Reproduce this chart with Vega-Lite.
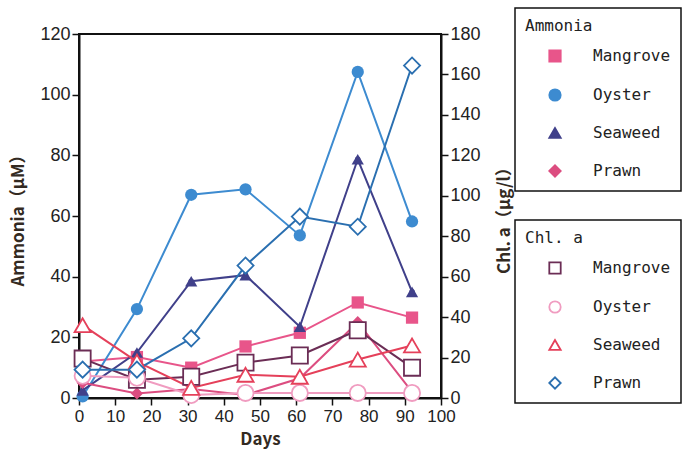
{
  "$schema": "https://vega.github.io/schema/vega-lite/v6.json",
  "width": 362,
  "height": 364,
  "autosize": "none",
  "padding": {"left": 79, "top": 34, "right": 254, "bottom": 57},
  "background": "white",
  "config": {
    "view": {"stroke": "#111", "strokeWidth": 2},
    "axis": {
      "labelFont": "Liberation Sans",
      "labelFontSize": 18,
      "labelColor": "#222",
      "labelOverlap": false,
      "labelFlush": false,
      "titleFont": "Noto Sans CJK JP",
      "titleFontSize": 17,
      "titleFontWeight": "bold",
      "titleColor": "#332a22",
      "domainColor": "#111",
      "domainWidth": 2,
      "tickColor": "#111",
      "tickWidth": 1.5,
      "tickSize": 7,
      "grid": false
    },
    "legend": {
      "orient": "none",
      "strokeColor": "#111",
      "strokeWidth": 1.5,
      "padding": 10,
      "titleFont": "DejaVu Sans Mono",
      "titleFontSize": 16,
      "titleFontWeight": "normal",
      "titleColor": "#222",
      "labelFont": "DejaVu Sans Mono",
      "labelFontSize": 16,
      "labelColor": "#222",
      "rowPadding": 19,
      "symbolSize": 130,
      "symbolStrokeWidth": 1.8,
      "symbolOffset": 22,
      "labelOffset": 30,
      "titlePadding": 14
    }
  },
  "encoding": {
    "x": {"field": "day", "type": "quantitative", "scale": {"domain": [0, 100], "nice": false},
          "axis": {"title": "Days", "values": [0,10,20,30,40,50,60,70,80,90,100], "labelOverlap": false, "labelFontSize": 17, "titlePadding": 7, "labelPadding": 3}}
  },
  "layer": [
    {
      "data": {"values": [
        {"day": 1, "value": 12, "site": "Mangrove"},
        {"day": 16, "value": 13.5, "site": "Mangrove"},
        {"day": 31, "value": 10, "site": "Mangrove"},
        {"day": 46, "value": 17, "site": "Mangrove"},
        {"day": 61, "value": 21.5, "site": "Mangrove"},
        {"day": 77, "value": 31.5, "site": "Mangrove"},
        {"day": 92, "value": 26.5, "site": "Mangrove"},
        {"day": 1, "value": 0.5, "site": "Oyster"},
        {"day": 16, "value": 29.3, "site": "Oyster"},
        {"day": 31, "value": 67, "site": "Oyster"},
        {"day": 46, "value": 68.8, "site": "Oyster"},
        {"day": 61, "value": 53.6, "site": "Oyster"},
        {"day": 77, "value": 107.5, "site": "Oyster"},
        {"day": 92, "value": 58.2, "site": "Oyster"},
        {"day": 1, "value": 2.5, "site": "Seaweed"},
        {"day": 16, "value": 15, "site": "Seaweed"},
        {"day": 31, "value": 38.5, "site": "Seaweed"},
        {"day": 46, "value": 40.5, "site": "Seaweed"},
        {"day": 61, "value": 23.5, "site": "Seaweed"},
        {"day": 77, "value": 78.7, "site": "Seaweed"},
        {"day": 92, "value": 35, "site": "Seaweed"},
        {"day": 1, "value": 5, "site": "Prawn"},
        {"day": 16, "value": 1.5, "site": "Prawn"},
        {"day": 31, "value": 3, "site": "Prawn"},
        {"day": 46, "value": 1, "site": "Prawn"},
        {"day": 61, "value": 6.5, "site": "Prawn"},
        {"day": 77, "value": 25, "site": "Prawn"},
        {"day": 92, "value": 2, "site": "Prawn"}
      ]},
      "encoding": {
        "y": {"field": "value", "type": "quantitative", "scale": {"domain": [0, 120], "nice": false},
              "axis": {"orient": "left", "title": "Ammonia（μM）", "values": [0,20,40,60,80,100,120], "titlePadding": 12}},
        "color": {"field": "site", "type": "nominal",
                  "scale": {"domain": ["Mangrove", "Oyster", "Seaweed", "Prawn"], "range": ["#e8558a", "#3d8bd0", "#40408a", "#dc4d80"]},
                  "legend": {"title": "Ammonia", "legendX": 436, "legendY": -26}},
        "shape": {"field": "site", "type": "nominal",
                  "scale": {"domain": ["Mangrove", "Oyster", "Seaweed", "Prawn"], "range": ["square", "circle", "triangle-up", "diamond"]},
                  "legend": {"title": "Ammonia", "legendX": 436, "legendY": -26}}
      },
      "layer": [
        {"mark": {"type": "line", "strokeWidth": 2}, "encoding": {"shape": {"value": "circle"}}},
        {"mark": {"type": "point", "filled": true, "size": 150, "opacity": 1}}
      ]
    },
    {
      "data": {"values": [
        {"day": 1, "value": 19.5, "site": "Mangrove"},
        {"day": 16, "value": 9, "site": "Mangrove"},
        {"day": 31, "value": 10.5, "site": "Mangrove"},
        {"day": 46, "value": 17.5, "site": "Mangrove"},
        {"day": 61, "value": 21, "site": "Mangrove"},
        {"day": 77, "value": 33.5, "site": "Mangrove"},
        {"day": 92, "value": 15, "site": "Mangrove"},
        {"day": 1, "value": 11, "site": "Oyster"},
        {"day": 16, "value": 10, "site": "Oyster"},
        {"day": 31, "value": 1.5, "site": "Oyster"},
        {"day": 46, "value": 2.5, "site": "Oyster"},
        {"day": 61, "value": 2.5, "site": "Oyster"},
        {"day": 77, "value": 2.5, "site": "Oyster"},
        {"day": 92, "value": 2.5, "site": "Oyster"},
        {"day": 1, "value": 36, "site": "Seaweed"},
        {"day": 16, "value": 18, "site": "Seaweed"},
        {"day": 31, "value": 5, "site": "Seaweed"},
        {"day": 46, "value": 11.5, "site": "Seaweed"},
        {"day": 61, "value": 10.5, "site": "Seaweed"},
        {"day": 77, "value": 19, "site": "Seaweed"},
        {"day": 92, "value": 26, "site": "Seaweed"},
        {"day": 1, "value": 14, "site": "Prawn"},
        {"day": 16, "value": 14, "site": "Prawn"},
        {"day": 31, "value": 29.5, "site": "Prawn"},
        {"day": 46, "value": 65.5, "site": "Prawn"},
        {"day": 61, "value": 89.7, "site": "Prawn"},
        {"day": 77, "value": 84.7, "site": "Prawn"},
        {"day": 92, "value": 164.4, "site": "Prawn"}
      ]},
      "encoding": {
        "y": {"field": "value", "type": "quantitative", "scale": {"domain": [0, 180], "nice": false},
              "axis": {"orient": "right", "title": "Chl. a（μg/l）", "values": [0,20,40,60,80,100,120,140,160,180], "titleAngle": -90, "titlePadding": 16, "titleBaseline": "top"}},
        "stroke": {"field": "site", "type": "nominal",
                  "scale": {"domain": ["Mangrove", "Oyster", "Seaweed", "Prawn"], "range": ["#6b2d55", "#f09cc0", "#e5405a", "#2a6fb0"]},
                  "legend": {"title": "Chl. a", "legendX": 436, "legendY": 186, "symbolFillColor": "white",
                             "encode": {"symbols": {"update": {"fill": {"value": "white"}, "fillOpacity": {"value": 1}}}}}},
        "shape": {"field": "site", "type": "nominal",
                  "scale": {"domain": ["Mangrove", "Oyster", "Seaweed", "Prawn"], "range": ["square", "circle", "triangle-up", "diamond"]},
                  "legend": {"title": "Chl. a", "legendX": 436, "legendY": 186, "symbolFillColor": "white",
                             "encode": {"symbols": {"update": {"fill": {"value": "white"}, "fillOpacity": {"value": 1}}}}}}
      },
      "layer": [
        {"mark": {"type": "line", "strokeWidth": 2}, "encoding": {"shape": {"value": "circle"}}},
        {"mark": {"type": "point", "filled": true, "fill": "white", "fillOpacity": 1, "strokeWidth": 1.8, "size": 260, "opacity": 1},
         "encoding": {"fill": {"value": "white"}}}
      ]
    }
  ],
  "resolve": {"scale": {"y": "independent", "color": "independent", "stroke": "independent", "shape": "independent"}}
}
